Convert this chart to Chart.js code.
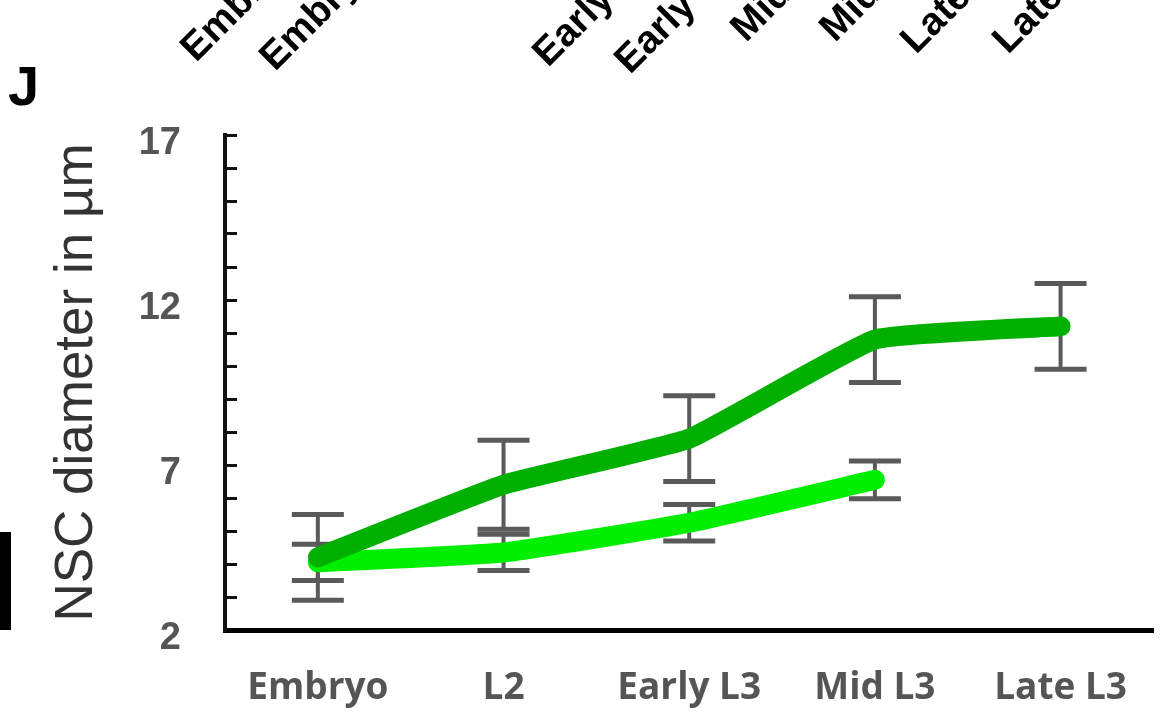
<!DOCTYPE html>
<html>
<head>
<meta charset="utf-8">
<script src="https://cdn.jsdelivr.net/npm/chart.js@4.4.1/dist/chart.umd.min.js"></script>
<style>
  body { margin: 0; background: #fff; }
  #wrap { width: 1163px; height: 713px; }
</style>
</head>
<body>
<div id="wrap"><canvas id="nscChart" width="1163" height="713"></canvas></div>
<script>
// stages on the x axis
let stages = ["Embryo", "L2", "Early L3", "Mid L3", "Late L3"]
// dark green line + its error (+/-)
let darkMeans = [4.2, 6.4, 7.8, 10.8, 11.2]
let darkErr = [1.3, 1.35, 1.3, 1.3, 1.3]
// light green line (no late L3 value)
let lightMeans = [4.05, 4.35, 5.25, 6.55, null]
let lightErr = [0.55, 0.55, 0.55, 0.57, null]
// y axis
let yMin = 2
let yMax = 17
let yLabelled = [2, 7, 12, 17]
// cut off labels of the panel above
let topLabels = ["Embryo", "Embryo", "Early L3", "Early L3", "Mid L3", "Mid L3", "Late L3", "Late L3"]
let topLabelX = [196, 275, 548, 630, 746, 835, 916, 1008]
let topLabelY = [63, 72, 68, 75, 43, 43, 55, 55]

const errorBars = {
    id: "errorBars",
    beforeDatasetsDraw(chart) {
        const ctx = chart.ctx
        const x = chart.scales.x
        const y = chart.scales.y
        ctx.save()
        ctx.strokeStyle = "#5a5a5a"
        const sets = [[darkMeans, darkErr], [lightMeans, lightErr]]
        for (let [means, errs] of sets) {
            for (let i = 0; i < means.length; i++) {
                if (means[i] == null) continue
                let px = x.getPixelForValue(i)
                let top = y.getPixelForValue(means[i] + errs[i])
                let bot = y.getPixelForValue(means[i] - errs[i])
                ctx.lineWidth = 4
                ctx.beginPath()
                ctx.moveTo(px, top)
                ctx.lineTo(px, bot)
                ctx.stroke()
                ctx.lineWidth = 5
                ctx.beginPath()
                ctx.moveTo(px - 26, top); ctx.lineTo(px + 26, top)
                ctx.moveTo(px - 26, bot); ctx.lineTo(px + 26, bot)
                ctx.stroke()
            }
        }
        ctx.restore()
    }
}

const extras = {
    id: "extras",
    afterDraw(chart) {
        const ctx = chart.ctx
        ctx.save()
        // panel letter
        ctx.fillStyle = "#000"
        ctx.font = "bold 56px 'Liberation Sans', Arial, sans-serif"
        ctx.textBaseline = "alphabetic"
        ctx.fillText("J", 8, 105)
        // bar on the left edge
        ctx.fillRect(0, 532, 11, 98)
        // rotated labels at the top
        ctx.font = "bold 39px 'Liberation Sans', Arial, sans-serif"
        for (let i = 0; i < topLabels.length; i++) {
            ctx.save()
            ctx.translate(topLabelX[i], topLabelY[i])
            ctx.rotate(-Math.PI / 4)
            ctx.fillText(topLabels[i], 0, 0)
            ctx.restore()
        }
        ctx.restore()
    }
}

const ctx = document.getElementById("nscChart").getContext("2d")
const nscChart = new Chart(ctx, {
    type: "line",
    data: {
        labels: stages,
        datasets: [{
            label: "dark",
            data: darkMeans,
            borderColor: "#00b000",
            borderWidth: 20,
            tension: 0.12,
            borderCapStyle: "round",
            borderJoinStyle: "round",
            pointRadius: 0
        }, {
            label: "light",
            data: lightMeans,
            borderColor: "#00ee00",
            borderWidth: 20,
            tension: 0.12,
            borderCapStyle: "round",
            borderJoinStyle: "round",
            pointRadius: 0
        }]
    },
    options: {
        responsive: false,
        animation: false,
        layout: { padding: { top: 135, right: 0, left: 0, bottom: 0 } },
        plugins: { legend: { display: false }, tooltip: { enabled: false } },
        scales: {
            x: {
                offset: true,
                grid: { display: false, drawTicks: false },
                border: { color: "#000", width: 5 },
                ticks: {
                    color: "#555",
                    padding: 36,
                    font: { family: "'Open Sans', sans-serif", size: 37, weight: "bold" }
                },
                afterFit(scale) { scale.height = 83 }
            },
            y: {
                min: yMin,
                max: yMax,
                grid: { drawOnChartArea: false, color: "#111", lineWidth: 3, tickLength: -12 },
                border: { color: "#111", width: 4 },
                ticks: {
                    stepSize: 1,
                    color: "#555",
                    padding: 56,
                    labelOffset: 9,
                    autoSkip: false,
                    font: { family: "'Liberation Sans', Arial, sans-serif", size: 38, weight: "bold" },
                    callback: (v) => yLabelled.includes(v) ? v : ""
                },
                title: {
                    display: true,
                    text: "NSC diameter in µm",
                    color: "#333",
                    font: { family: "'Liberation Sans', Arial, sans-serif", size: 53 },
                    padding: { top: 46, bottom: 0 }
                },
                afterFit(scale) { scale.width = 225 }
            }
        }
    },
    plugins: [errorBars, extras]
})
</script>
</body>
</html>
